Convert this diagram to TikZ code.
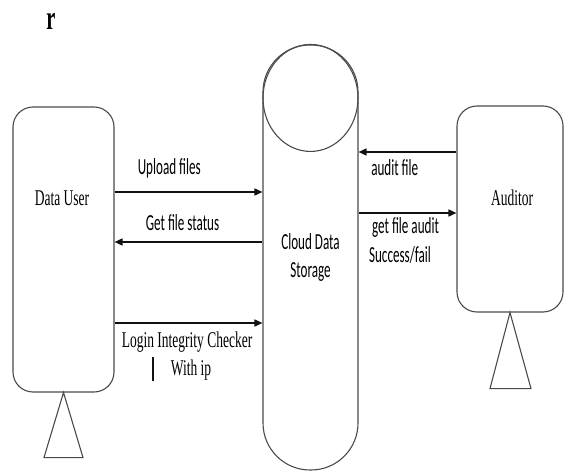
\documentclass[tikz,border=0pt]{standalone}
\usepackage{fontspec}
\usepackage{xcolor}
\usetikzlibrary{
    positioning,
    calc,
    arrows.meta
}
\setmainfont{Liberation Serif}
\newfontfamily\serifnarrow[FakeStretch=0.6]{Liberation Serif}
\newfontfamily\sansnarrow[FakeStretch=0.57]{Carlito}
\definecolor{BorderGray}{HTML}{4A4A4A}
\definecolor{ArrowBlack}{HTML}{111111}

\tikzset{
    actorbox/.style={
        draw=BorderGray,
        line width=1.1pt,
        rounded corners=20pt,
        inner sep=0pt
    },
    flow/.style={
        draw=ArrowBlack,
        line width=1.6pt,
        -{Triangle[length=8pt,width=7pt]}
    },
    seriftext/.style={
        font=\serifnarrow\fontsize{22.5}{26}\selectfont,
        inner sep=0pt
    },
    sanstext/.style={
        font=\sansnarrow\fontsize{23}{28}\selectfont,
        inner sep=0pt,
        align=center
    }
}

\begin{document}
\begin{tikzpicture}[x=1pt, y=-1pt]

    \useasboundingbox (0,0) rectangle (565,473);

    \node[font=\serifnarrow\bfseries\fontsize{34}{38}\selectfont, inner sep=0pt]
        (mark) at (51,21) {r};

    % actors
    \node[actorbox, minimum width=101pt, minimum height=285pt]
        (user) at (63.5,249.5) {};
    \node[seriftext] (userlabel) at (62,198) {Data User};

    \node[actorbox, minimum width=106pt, minimum height=206pt]
        (auditor) at (510,209) {};
    \node[seriftext] (auditorlabel) at (512,198) {Auditor};

    \draw[BorderGray, line width=1.1pt]
        (user.south) -- ++(-19.5,65) -- ++(39,0) -- cycle;
    \draw[BorderGray, line width=1.1pt]
        (auditor.south) -- ++(-20,76) -- ++(41,0) -- cycle;

    % storage drum
    \node[
        draw=BorderGray,
        line width=1.1pt,
        rounded corners=47pt,
        minimum width=95pt,
        minimum height=425pt,
        sanstext
    ] (cloud) at (310.5,257.5) {Cloud Data\\Storage};
    \draw[BorderGray, line width=1.1pt]
        (cloud.north) ++(0,53.5) ellipse [x radius=47.5, y radius=53.5];

    % user side
    \coordinate (upload) at ([yshift=57.5pt]user.east);
    \coordinate (status) at ([yshift=7.5pt]user.east);
    \coordinate (login) at ([yshift=-73.5pt]user.east);

    \draw[flow] (upload) -- (upload -| cloud.west)
        node[sanstext, pos=0.37, yshift=24pt] (uploadlabel) {Upload files};
    \draw[flow] (status -| cloud.west) -- (status)
        node[sanstext, pos=0.54, yshift=19pt] (statuslabel) {Get file status};
    \draw[flow] (login) -- (login -| cloud.west)
        node[seriftext, pos=0.49, yshift=-19pt] (loginlabel) {Login Integrity Checker};
    \node[seriftext] (iplabel) at (191,370) {With ip};
    \draw[ArrowBlack, line width=2pt] (153,357) -- (153,381);

    % auditor side
    \coordinate (audit) at ([yshift=57pt]auditor.west);
    \coordinate (result) at ([yshift=-4pt]auditor.west);

    \draw[flow] (audit) -- (audit -| cloud.east)
        node[sanstext, pos=0.63, yshift=-16pt] (auditlabel) {audit file};
    \draw[flow] (result -| cloud.east) -- (result)
        node[sanstext, pos=0.48, yshift=-14pt] (resultlabel) {get file audit};
    \node[sanstext] (outcomelabel) at (400,255) {Success/fail};

\end{tikzpicture}
\end{document}
